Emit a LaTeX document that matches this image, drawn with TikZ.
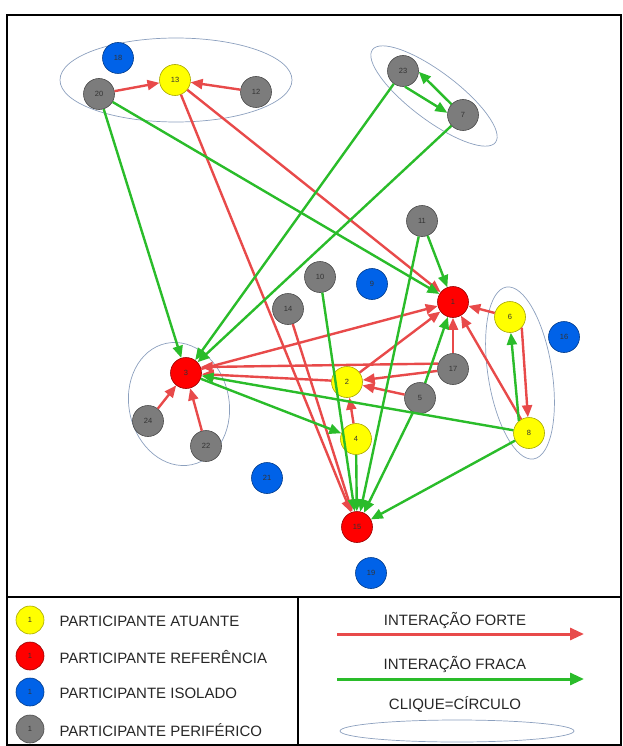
\documentclass[tikz,border=0pt]{standalone}
\usepackage{fontspec}
\setmainfont{Liberation Sans}
\usetikzlibrary{arrows.meta}
\definecolor{forteline}{RGB}{232,74,74}
\definecolor{fracaline}{RGB}{42,188,42}
\definecolor{cliqueline}{RGB}{140,160,190}
\definecolor{atufill}{RGB}{255,255,0}
\definecolor{reffill}{RGB}{255,0,0}
\definecolor{isofill}{RGB}{0,98,232}
\definecolor{perfill}{RGB}{124,124,124}
\newcommand\partsize{31pt}
\newcommand\legsize{28pt}

\begin{document}
\begin{tikzpicture}[x=1pt,y=-1pt,
    part/.style={circle,line width=0.6pt,minimum size=\partsize,inner sep=0pt,
      text=black!80,font=\fontsize{7.5}{7.5}\selectfont},
    atu/.style={part,fill=atufill,draw=atufill!65!black},
    ref/.style={part,fill=reffill,draw=reffill!60!black},
    iso/.style={part,fill=isofill,draw=isofill!60!black},
    per/.style={part,fill=perfill,draw=perfill!60!black},
    forte/.style={draw=forteline,line width=2.4pt,-{Triangle[length=12pt,width=10pt]}},
    fraca/.style={draw=fracaline,line width=2.4pt,-{Triangle[length=12pt,width=10pt]}},
    clique/.style={draw=cliqueline,line width=0.7pt},
    legtext/.style={font=\fontsize{15}{17}\selectfont,text=black!85}
  ]
    \useasboundingbox (0,0) rectangle (622,746);

    \draw[line width=2pt] (7,15) rectangle (621,745);
    \draw[line width=2pt] (7,597) -- (621,597);
    \draw[line width=2pt] (298,597) -- (298,745);

    \draw[clique] (176,80) ellipse [x radius=116, y radius=42];
    \draw[clique,rotate around={-37:(434,96)}] (434,96) ellipse [x radius=77, y radius=24];
    \draw[clique,rotate around={9:(520,373)}] (520,373) ellipse [x radius=32, y radius=87];
    \draw[clique,rotate around={12:(179,404)}] (179,404) ellipse [x radius=50, y radius=62];

    \node[ref] (N1) at (453,302) {1};
    \node[atu] (N2) at (347,382) {2};
    \node[ref] (N3) at (186,373) {3};
    \node[atu] (N4) at (356,439) {4};
    \node[per] (N5) at (420,398) {5};
    \node[atu] (N6) at (510,317) {6};
    \node[per] (N7) at (463,115) {7};
    \node[atu] (N8) at (529,433) {8};
    \node[iso] (N9) at (372,284) {9};
    \node[per] (N10) at (320,277) {10};
    \node[per] (N11) at (422,221) {11};
    \node[per] (N12) at (256,92) {12};
    \node[atu] (N13) at (175,80) {13};
    \node[per] (N14) at (288,309) {14};
    \node[ref] (N15) at (357,527) {15};
    \node[iso] (N16) at (564,337) {16};
    \node[per] (N17) at (453,369) {17};
    \node[iso] (N18) at (118,58) {18};
    \node[iso] (N19) at (371,573) {19};
    \node[per] (N20) at (99,94) {20};
    \node[iso] (N21) at (267,478) {21};
    \node[per] (N22) at (206,446) {22};
    \node[per] (N23) at (403,71) {23};
    \node[per] (N24) at (148,421) {24};

    \draw[forte] (N20) -- (N13);
    \draw[forte] (N12) -- (N13);
    \draw[forte] (N13) -- (N1);
    \draw[forte] (N13) -- (N15);
    \draw[forte] (N14) -- (N15);
    \draw[forte] (N3) -- (N1);
    \draw[forte] (N2) -- (N1);
    \draw[forte] (N17) -- (N1);
    \draw[forte] (N6) -- (N1);
    \draw[forte] (N8) -- (N1);
    \draw[forte] (N6.-42) -- (N8.94);
    \draw[forte] (N17.160) -- (N3.22);
    \draw[forte] (N2.175) -- (N3.-4);
    \draw[forte] (N17) -- (N2);
    \draw[forte] (N5) -- (N2);
    \draw[forte] (N4) -- (N2);
    \draw[forte] (N24) -- (N3);
    \draw[forte] (N22) -- (N3);

    \draw[fraca] (N20) -- (N3);
    \draw[fraca] (N20) -- (N1);
    \draw[fraca] (N23) -- (N3);
    \draw[fraca] (N7) -- (N3);
    \draw[fraca] (N23.-83) -- (N7.172);
    \draw[fraca] (N7.137) -- (N23.-3);
    \draw[fraca] (N11) -- (N1);
    \draw[fraca] (N11) -- (N15);
    \draw[fraca] (N10) -- (N15);
    \draw[fraca] (N4) -- (N15);
    \draw[fraca] (N5) -- (N15);
    \draw[fraca] (N5) -- (N1);
    \draw[fraca] (N8) -- (N15);
    \draw[fraca] (N8) -- (N3);
    \draw[fraca] (N8.130) -- (N6.-87);
    \draw[fraca] (N3) -- (N4);

    \node[atu,minimum size=\legsize] (L1) at (30,620) {1};
    \node[ref,minimum size=\legsize] (L2) at (30,656) {1};
    \node[iso,minimum size=\legsize] (L3) at (30,692) {1};
    \node[per,minimum size=\legsize] (L4) at (30,729) {1};
    \node[legtext,anchor=west] (T1) at (56,621) {PARTICIPANTE ATUANTE};
    \node[legtext,anchor=west] (T2) at (56,657) {PARTICIPANTE REFERÊNCIA};
    \node[legtext,anchor=west] (T3) at (56,693) {PARTICIPANTE ISOLADO};
    \node[legtext,anchor=west] (T4) at (56,730) {PARTICIPANTE PERIFÉRICO};

    \node[legtext] (T5) at (455,620) {INTERAÇÃO FORTE};
    \coordinate (F1) at (337,634);
    \coordinate (F2) at (584,634);
    \draw[forte,line width=3pt,-{Triangle[length=14pt,width=12pt]}] (F1) -- (F2);
    \node[legtext] (T6) at (455,664) {INTERAÇÃO FRACA};
    \coordinate (W1) at (337,679);
    \coordinate (W2) at (584,679);
    \draw[fraca,line width=3pt,-{Triangle[length=14pt,width=12pt]}] (W1) -- (W2);
    \node[legtext] (T7) at (455,704) {CLIQUE=CÍRCULO};
    \draw[clique] (457,731) ellipse [x radius=117, y radius=11];
  \end{tikzpicture}
\end{document}
